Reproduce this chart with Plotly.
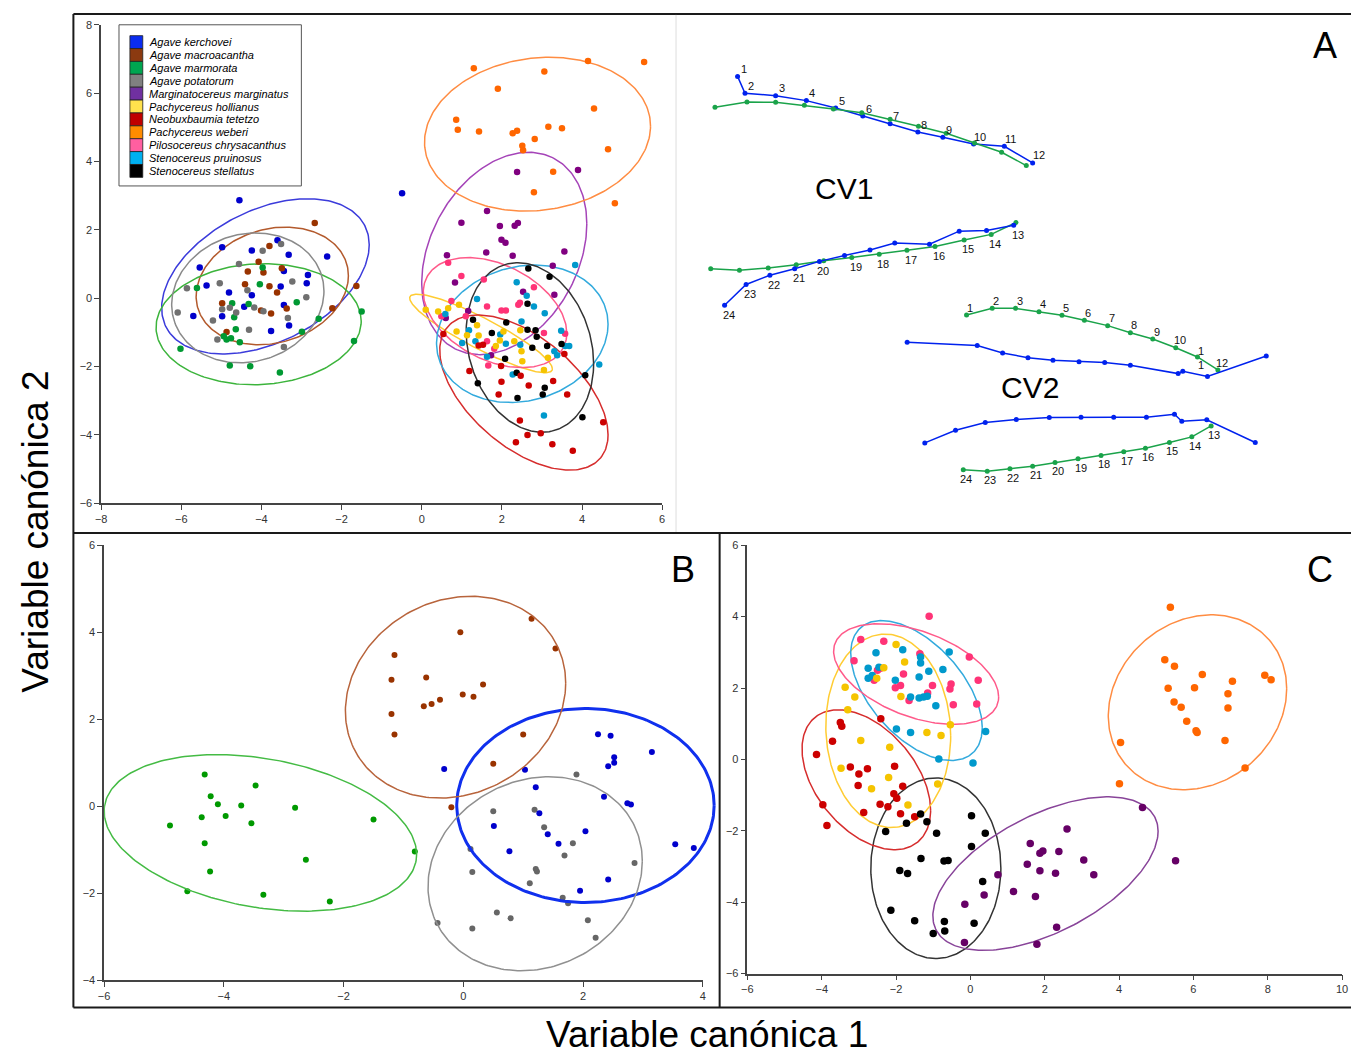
import numpy as np
import plotly.graph_objects as go

W, H = 1357, 1061
FONT = "Liberation Sans, Arial, sans-serif"

# ---------------- species and colours ----------------
species = ["Agave kerchovei", "Agave macroacantha", "Agave marmorata", "Agave potatorum",
           "Marginatocereus marginatus", "Pachycereus hollianus", "Neobuxbaumia tetetzo",
           "Pachycereus weberi", "Pilosocereus chrysacanthus", "Stenocereus pruinosus",
           "Stenocereus stellatus"]
legend_colors = ["#0a2cf0", "#8b3a10", "#00a550", "#808080", "#7030a0", "#ffe14d",
                 "#c00000", "#ff8c00", "#ff5fa0", "#00b0f0", "#000000"]
point_colors = {"kerchovei": "#0000cc", "macroacantha": "#993300", "marmorata": "#009933",
                "potatorum": "#707070", "marginatus": "#800080", "hollianus": "#f5c400",
                "tetetzo": "#cc0000", "weberi": "#ff6600", "chrysacanthus": "#ff3377",
                "pruinosus": "#0099cc", "stellatus": "#000000"}
ellipse_colors = {"kerchovei": "#3b3bdb", "macroacantha": "#b35a2d", "marmorata": "#3cb43c",
                  "potatorum": "#8a8a8a", "marginatus": "#a544b8", "hollianus": "#ffcc33",
                  "tetetzo": "#d62d2d", "weberi": "#ff8c42", "chrysacanthus": "#ff5a8a",
                  "pruinosus": "#33aadd", "stellatus": "#333333"}

# ---------------- panel A: all species (CV1, CV2) ----------------
a_kerchovei = [(-4.55, 2.87), (-4.98, 1.49), (-4.24, 1.40), (-3.60, 1.70), (-3.32, 1.27), (-2.36, 1.22),
               (-5.54, 0.90), (-2.84, 0.68), (-3.44, 0.80), (-5.37, 0.37), (-2.87, 0.44), (-4.81, 0.17),
               (-3.52, 0.34), (-4.24, 0.09), (-4.43, -0.25), (-3.44, -0.20), (-5.70, -0.52), (-4.98, -0.53),
               (-3.31, -0.80), (-3.76, -0.96), (-0.49, 3.07)]
a_macroacantha = [(-2.67, 2.20), (-3.80, 1.53), (-4.07, 1.07), (-3.49, 0.88), (-4.34, 0.78), (-3.95, 0.75),
                  (-4.41, 0.41), (-3.80, 0.35), (-3.61, 0.17), (-1.63, 0.36), (-4.98, -0.15), (-4.01, -0.36),
                  (-3.76, -0.45), (-3.37, -0.30), (-2.23, -0.29), (-4.87, -0.99)]
a_marmorata = [(-3.97, 0.90), (-4.04, 0.41), (-5.61, 0.30), (-4.73, -0.15), (-4.32, -0.17), (-3.12, -0.12),
               (-4.68, -0.56), (-2.57, -0.60), (-1.50, -0.39), (-4.64, -0.91), (-2.99, -0.98), (-4.94, -1.11),
               (-4.76, -1.17), (-4.87, -1.21), (-4.54, -1.29), (-1.69, -1.25), (-6.02, -1.48), (-4.79, -1.97),
               (-4.28, -1.99), (-3.54, -2.17)]
a_potatorum = [(-3.51, 1.59), (-3.97, 1.39), (-4.56, 1.00), (-5.86, 0.29), (-5.04, 0.44), (-3.23, 0.49),
               (-2.88, 0.03), (-4.35, 0.23), (-4.79, -0.28), (-4.63, -0.42), (-4.98, -0.32), (-4.18, -0.27),
               (-3.95, -0.38), (-6.09, -0.42), (-5.21, -0.65), (-3.34, -0.58), (-4.31, -0.92), (-5.10, -1.21),
               (-3.44, -1.43)]
a_marginatus = [(2.38, 3.69), (3.90, 3.75), (1.63, 2.55), (0.99, 2.21), (1.95, 2.11), (2.32, 2.12), (2.40, 2.20),
                (1.99, 1.71), (2.09, 1.62), (0.63, 1.26), (1.61, 1.34), (2.27, 1.24), (3.56, 1.37), (3.27, 0.95),
                (0.83, 0.46), (2.53, 0.19), (3.31, 0.10), (1.16, -0.37), (0.60, -0.58), (1.73, -1.67)]
a_hollianus = [(0.10, -0.34), (0.41, -0.39), (0.66, -0.29), (0.93, -0.19), (1.38, -0.79), (0.87, -0.97),
               (1.13, -1.08), (1.42, -1.09), (1.95, -1.24), (2.04, -0.97), (2.31, -1.26), (2.46, -0.94),
               (2.49, -1.55), (2.51, -1.84), (3.15, -1.74), (3.05, -2.10), (1.85, -1.40)]
a_tetetzo = [(0.54, -1.05), (1.42, -1.38), (1.53, -1.36), (1.98, -1.98), (1.19, -2.13), (2.47, -2.27),
             (1.99, -2.44), (2.67, -2.55), (3.28, -2.42), (1.92, -2.82), (3.63, -2.82), (3.56, -1.63),
             (2.45, -3.58), (2.64, -4.00), (2.97, -3.95), (2.35, -4.21), (3.26, -4.27), (3.77, -4.46),
             (4.53, -3.63)]
a_weberi = [(1.30, 6.73), (3.06, 6.63), (4.15, 6.94), (5.55, 6.91), (1.90, 6.13), (4.30, 5.55), (0.86, 5.22),
            (0.90, 4.93), (1.43, 4.88), (2.27, 4.83), (2.38, 4.90), (3.16, 5.02), (3.50, 4.97), (2.82, 4.66),
            (2.51, 4.46), (2.53, 4.33), (4.65, 4.36), (3.28, 3.70), (2.80, 3.10), (4.82, 2.78)]
a_chrysacanthus = [(0.66, 1.04), (0.99, 0.65), (1.55, 0.55), (2.80, 0.32), (0.74, -0.08), (1.63, -0.24),
                   (2.41, -0.19), (2.45, -0.13), (1.99, -0.36), (2.10, -0.36), (1.10, -0.53), (3.05, -1.02),
                   (3.58, -1.04), (1.63, -1.26), (1.81, -1.48), (1.66, -1.97), (0.49, -0.53)]
a_pruinosus = [(3.83, 0.97), (2.37, 0.47), (2.62, 0.07), (2.80, -0.24), (1.38, -0.02), (3.07, -0.44),
               (0.59, -0.46), (2.49, -0.68), (1.18, -0.94), (1.96, -1.06), (1.34, -1.26), (1.01, -1.31),
               (2.46, -1.36), (3.48, -0.95), (3.31, -1.55), (3.38, -1.67), (3.58, -1.40), (3.68, -1.40),
               (1.63, -1.71), (2.27, -2.23), (4.43, -1.94), (3.05, -3.43), (2.10, -1.33)]
a_stellatus = [(2.66, 0.87), (3.19, 0.63), (2.64, -0.16), (1.28, -0.63), (2.11, -0.71), (1.75, -1.02),
               (2.64, -0.92), (2.84, -0.94), (2.87, -1.13), (3.13, -1.40), (3.49, -1.34), (2.76, -1.45),
               (2.08, -1.77), (2.37, -2.18), (1.40, -2.49), (3.07, -2.62), (3.02, -2.82), (2.39, -2.92),
               (4.08, -2.25), (4.01, -3.48)]

# ellipse: centre x, centre y, half-width, half-height, tilt angle (deg)
ellipses_a = {"kerchovei": (-3.90, 0.64, 2.59, 2.27, 66), "macroacantha": (-3.73, 0.36, 1.90, 1.72, 80),
              "marmorata": (-4.07, -0.76, 2.56, 1.77, 87), "potatorum": (-4.34, 0.01, 1.90, 1.90, 84),
              "marginatus": (2.06, 1.31, 2.06, 2.96, 73), "hollianus": (1.48, -1.03, 1.78, 1.15, 154),
              "tetetzo": (2.55, -2.76, 2.10, 2.27, 123), "weberi": (2.89, 4.80, 2.82, 2.25, 84),
              "chrysacanthus": (1.83, -0.42, 1.79, 1.61, 112), "pruinosus": (2.51, -1.04, 2.14, 2.01, 82),
              "stellatus": (2.70, -1.44, 1.59, 2.48, 101)}

# ---------------- panel B: Agave ----------------
b_kerchovei = [(2.25, 1.66), (2.46, 1.62), (3.15, 1.25), (2.52, 1.13), (2.52, 1.00), (2.42, 0.92), (-0.32, 0.86),
               (1.03, 0.84), (1.21, 0.44), (2.35, 0.22), (2.74, 0.07), (2.80, 0.04), (1.27, -0.16), (0.51, -0.45),
               (1.41, -0.64), (2.04, -0.57), (1.59, -0.86), (0.77, -1.03), (3.54, -0.87), (3.85, -0.96),
               (2.42, -1.68), (1.95, -1.94)]
b_macroacantha = [(-1.15, 3.48), (-1.20, 2.91), (-0.62, 2.96), (-0.66, 2.30), (-0.53, 2.35), (-0.39, 2.45),
                  (-1.20, 2.12), (-1.15, 1.65), (-0.05, 4.00), (1.14, 4.31), (1.54, 3.63), (0.33, 2.80),
                  (-0.01, 2.57), (0.17, 2.52), (1.00, 1.65), (0.50, 0.98), (-0.20, -0.02)]
b_marmorata = [(-4.32, 0.73), (-3.47, 0.48), (-4.22, 0.23), (-4.10, 0.05), (-3.71, 0.02), (-2.81, -0.03),
               (-4.37, -0.25), (-3.97, -0.22), (-4.90, -0.44), (-3.54, -0.39), (-1.50, -0.30), (-4.32, -0.85),
               (-0.81, -1.04), (-2.63, -1.23), (-4.23, -1.50), (-4.61, -1.95), (-3.34, -2.03), (-2.23, -2.19)]
b_potatorum = [(1.89, 0.73), (0.50, -0.11), (1.19, -0.08), (1.35, -0.48), (1.83, -0.85), (1.69, -1.13),
               (2.86, -1.30), (0.12, -0.98), (0.15, -1.51), (1.21, -1.44), (1.23, -1.50), (1.11, -1.77),
               (1.66, -2.10), (1.75, -2.23), (0.56, -2.44), (0.79, -2.57), (2.08, -2.62), (-0.43, -2.68),
               (0.15, -2.81), (2.21, -3.02)]
ellipses_b = {"kerchovei": (2.04, 0.02, 2.15, 2.23, 90), "macroacantha": (-0.13, 2.51, 1.84, 2.32, 82),
              "potatorum": (1.20, -1.55, 1.79, 2.23, 82.5), "marmorata": (-3.39, -0.61, 2.61, 1.80, 106)}

# ---------------- panel C: Cactaceae ----------------
c_chrysacanthus = [(-1.11, 4.01), (-2.95, 3.36), (-2.33, 3.31), (-1.36, 2.96), (-0.03, 2.87), (-3.13, 2.76),
                   (-2.42, 2.55), (-2.50, 2.50), (-1.80, 2.39), (-2.59, 2.22), (-1.02, 2.07), (-0.52, 2.11),
                   (-0.55, 1.97), (0.21, 2.22), (-2.02, 2.01), (-1.88, 2.07), (-1.15, 1.86), (-1.65, 1.65),
                   (-0.46, 1.53), (0.17, 1.55)]
c_pruinosus = [(-2.54, 2.99), (-1.82, 3.07), (-1.34, 2.87), (-1.34, 2.70), (-0.57, 3.01), (-2.75, 2.55),
               (-2.46, 2.58), (-2.75, 2.27), (-2.64, 2.35), (-2.02, 2.22), (-1.38, 2.31), (-1.12, 2.47),
               (-0.74, 2.52), (-1.61, 1.75), (-1.38, 1.72), (-1.26, 1.75), (-1.16, 1.77), (-0.93, 1.50),
               (-1.99, 0.85), (-1.61, 0.75), (-0.85, 0.01), (0.07, -0.10), (0.41, 0.78)]
c_hollianus = [(-2.00, 3.22), (-1.77, 2.73), (-2.33, 2.57), (-2.52, 2.27), (-3.37, 2.02), (-3.11, 1.75),
               (-1.87, 1.76), (-3.30, 1.39), (-0.54, 0.97), (-1.17, 0.75), (-0.79, 0.67), (-2.95, 0.53),
               (-2.17, 0.34), (-3.48, -0.25), (-2.20, -0.51), (-2.66, -0.82), (-0.88, -0.69), (-1.68, -1.28)]
c_tetetzo = [(-2.41, 1.14), (-3.50, 1.03), (-3.46, 0.93), (-3.71, 0.51), (-4.14, 0.14), (-2.04, -0.19),
             (-3.23, -0.21), (-2.77, -0.26), (-3.00, -0.41), (-3.02, -0.73), (-1.82, -0.75), (-2.06, -0.96),
             (-1.98, -1.09), (-3.97, -1.27), (-2.43, -1.26), (-2.22, -1.33), (-2.87, -1.49), (-1.88, -1.52),
             (-1.50, -1.61), (-3.86, -1.85)]
c_stellatus = [(-1.34, -1.53), (-1.72, -1.79), (-1.17, -1.75), (0.03, -1.58), (-2.28, -2.02), (-0.91, -2.07),
               (0.40, -2.07), (0.03, -2.44), (-1.33, -2.78), (-0.71, -2.85), (-0.60, -2.83), (-1.90, -3.11),
               (-1.69, -3.20), (0.33, -3.42), (-2.14, -4.23), (-1.50, -4.52), (-0.70, -4.54), (0.10, -4.59),
               (-1.00, -4.88), (-0.69, -4.81)]
c_marginatus = [(4.63, -1.35), (2.60, -1.95), (1.61, -2.36), (1.87, -2.63), (1.95, -2.57), (2.38, -2.58),
                (3.05, -2.82), (1.53, -2.94), (1.87, -3.12), (2.29, -3.19), (3.32, -3.23), (5.52, -2.84),
                (1.16, -3.70), (1.75, -3.84), (2.32, -4.70), (1.79, -5.18), (0.74, -3.23), (0.37, -3.80),
                (-0.15, -4.06), (-0.16, -5.13)]
c_weberi = [(5.38, 4.26), (5.23, 2.79), (5.49, 2.61), (6.24, 2.38), (7.05, 2.19), (7.92, 2.36), (8.09, 2.23),
            (5.32, 1.99), (6.03, 2.01), (6.93, 1.84), (5.48, 1.61), (5.67, 1.46), (6.93, 1.44), (5.82, 1.07),
            (6.07, 0.80), (6.10, 0.75), (6.85, 0.53), (4.04, 0.47), (7.39, -0.24), (4.01, -0.68)]
ellipses_c = {"stellatus": (-0.93, -3.05, 1.75, 2.53, 90), "tetetzo": (-2.80, -0.57, 1.73, 1.96, 116),
              "hollianus": (-2.21, 0.80, 1.68, 2.71, 93), "pruinosus": (-1.45, 1.93, 1.77, 1.96, 122),
              "chrysacanthus": (-1.46, 2.39, 2.22, 1.41, 117), "marginatus": (2.02, -3.20, 3.03, 2.15, 56.5),
              "weberi": (6.11, 1.60, 2.40, 2.45, 81)}

# ---------------- shape outlines along CV1 / CV2 (landmarks 1-24) ----------------
cv1_upper_blue = [(738.1, 71.2), (745.6, 88.3), (776.5, 90.7), (807.5, 95.7), (837.1, 103.1), (864.4, 111.2),
                  (892.0, 119.0), (920.0, 127.4), (945.2, 132.8), (976.2, 139.5), (1007.2, 141.9), (1035.8, 158.7)]
cv1_upper_green = [(715.3, 102.5), (747.6, 97.1), (776.5, 97.4), (805.5, 100.5), (834.8, 104.2), (863.4, 107.9),
                   (892.0, 114.6), (920.6, 121.7), (948.6, 128.7), (977.2, 138.5), (1004.5, 147.9), (1029.4, 161.4)]
cv1_lower_blue = [(1016.7, 221.7), (989.3, 227.0), (961.7, 227.7), (931.7, 241.0), (896.7, 239.7), (871.7, 246.7),
                  (846.0, 252.3), (820.7, 258.3), (795.7, 265.7), (770.7, 272.3), (746.7, 281.7), (725.0, 302.7)]
cv1_lower_green = [(1019.0, 219.0), (994.0, 231.0), (966.7, 236.7), (937.3, 243.3), (909.0, 247.0), (881.0, 251.0),
                   (853.3, 254.3), (825.0, 257.7), (797.3, 261.7), (769.0, 265.0), (740.0, 267.3), (711.0, 265.7)]
cv2_upper_green = [(969.1, 312.6), (995.0, 305.8), (1018.6, 305.8), (1042.2, 309.2), (1065.4, 312.9), (1088.0, 317.9),
                   (1111.5, 323.3), (1134.4, 330.4), (1157.0, 336.8), (1180.2, 345.6), (1202.1, 355.0), (1222.7, 368.1)]
cv2_upper_blue = [(909.2, 340.2), (979.9, 343.5), (1005.5, 350.9), (1031.1, 355.7), (1056.3, 358.4), (1082.6, 359.7),
                  (1108.5, 360.7), (1134.4, 363.4), (1182.6, 371.8), (1187.3, 369.5), (1212.2, 374.8), (1271.5, 354.0)]
cv2_lower_blue = [(927.0, 441.9), (958.0, 429.1), (988.0, 421.3), (1019.3, 418.3), (1052.6, 416.3), (1084.6, 415.9),
                  (1117.6, 415.9), (1150.6, 415.9), (1178.9, 412.9), (1186.3, 420.0), (1211.5, 418.6), (1260.4, 441.5)]
cv2_lower_green = [(1215.9, 424.7), (1196.4, 435.8), (1173.8, 441.5), (1149.6, 447.2), (1127.7, 450.9), (1104.8, 454.6),
                   (1081.6, 458.0), (1058.4, 461.7), (1035.8, 465.4), (1012.9, 468.1), (990.0, 470.5), (965.8, 469.1)]
upper_labels = [str(i) for i in range(1, 13)]
lower_labels = [str(i) for i in range(13, 25)]


def ellipse(cx, cy, rx, ry, tilt, n=240):
    t = np.linspace(0, 2 * np.pi, n)
    return cx + rx * np.cos(t), cy + ry * np.cos(t - np.radians(tilt))


def px(x):
    return x / W


def py(y):
    return 1 - y / H


fig = go.Figure()


def add_panel(points, ells, xa, ya, msize, ewidth=1.5, ecolors=None, pcolors=None, wide=None, ell_xa=None):
    ecolors = ecolors or ellipse_colors
    pcolors = pcolors or point_colors
    for key, (cx, cy, rx, ry, tilt) in ells.items():
        ex, ey = ellipse(cx, cy, rx, ry, tilt)
        w = ewidth if wide is None or key not in wide else wide[key]
        fig.add_trace(go.Scatter(x=ex, y=ey, mode="lines", xaxis=ell_xa or xa, yaxis=ya, showlegend=False,
                                 line=dict(color=ecolors[key], width=w), hoverinfo="skip"))
    for key, pts in points.items():
        fig.add_trace(go.Scatter(x=[p[0] for p in pts], y=[p[1] for p in pts], mode="markers",
                                 xaxis=xa, yaxis=ya, showlegend=False, name=key,
                                 marker=dict(color=pcolors[key], size=msize, line=dict(width=0))))


add_panel({"kerchovei": a_kerchovei, "macroacantha": a_macroacantha, "marmorata": a_marmorata,
           "potatorum": a_potatorum, "weberi": a_weberi, "marginatus": a_marginatus,
           "chrysacanthus": a_chrysacanthus, "pruinosus": a_pruinosus, "hollianus": a_hollianus,
           "stellatus": a_stellatus, "tetetzo": a_tetetzo},
          ellipses_a, "x", "y", 6.5)

# panel B ellipses use a companion x axis with the same scale that reaches the panel border
add_panel({"macroacantha": b_macroacantha, "marmorata": b_marmorata, "potatorum": b_potatorum,
           "kerchovei": b_kerchovei},
          ellipses_b, "x2", "y2", 6,
          ecolors=dict(ellipse_colors, kerchovei="#1030ee", potatorum="#909090", macroacantha="#b8643c",
                       marmorata="#44bb44"),
          pcolors=dict(point_colors, kerchovei="#0000cc", potatorum="#666666", marmorata="#009900"),
          wide={"kerchovei": 3}, ell_xa="x5")

add_panel({"chrysacanthus": c_chrysacanthus, "pruinosus": c_pruinosus, "hollianus": c_hollianus,
           "tetetzo": c_tetetzo, "stellatus": c_stellatus, "marginatus": c_marginatus, "weberi": c_weberi},
          ellipses_c, "x3", "y3", 7.5,
          ecolors=dict(ellipse_colors, marginatus="#884499"),
          pcolors=dict(point_colors, marginatus="#660066"))

# shape outlines
annotations = []
for pts, col in [(cv1_upper_blue, "#0022ee"), (cv1_upper_green, "#1aa34a"), (cv1_lower_green, "#1aa34a"),
                 (cv1_lower_blue, "#0022ee"), (cv2_upper_green, "#1aa34a"), (cv2_upper_blue, "#0022ee"),
                 (cv2_lower_blue, "#0022ee"), (cv2_lower_green, "#1aa34a")]:
    fig.add_trace(go.Scatter(x=[p[0] for p in pts], y=[p[1] for p in pts], mode="lines+markers",
                             xaxis="x4", yaxis="y4", showlegend=False, hoverinfo="skip",
                             line=dict(color=col, width=1.5), marker=dict(color=col, size=5)))

lab_font = dict(family=FONT, size=11, color="#111111")


def note(x, y, text, font, ref="paper", **kw):
    d = dict(x=x, y=y, xref=ref, yref=ref if ref == "paper" else "y4", text=text, showarrow=False,
             font=font, xanchor="center", yanchor="middle")
    d.update(kw)
    annotations.append(d)


for lab, (x, y) in zip(upper_labels, cv1_upper_blue):
    note(x + 6, y - 7.5, lab, lab_font, ref="x4")
for lab, b, g in zip(lower_labels, cv1_lower_blue, cv1_lower_green):
    low = b if b[1] >= g[1] else g
    note(low[0] + 4, low[1] + 9.5, lab, lab_font, ref="x4")
for lab, (x, y) in zip(upper_labels, cv2_upper_green):
    if lab == "11":
        note(x + 4, y + 1.5, "1<br>1", lab_font, ref="x4")
    else:
        note(x + 4, y - 7.5, lab, lab_font, ref="x4")
for lab, (x, y) in zip(lower_labels, cv2_lower_green):
    note(x + 3, y + 9, lab, lab_font, ref="x4")

big = dict(family=FONT, size=36, color="black")
note(px(845), py(185), "CV1", dict(family=FONT, size=30, color="black"))
note(px(1033), py(386), "CV2", dict(family=FONT, size=30, color="black"))
note(px(1331), py(40), "A", big)
note(px(683), py(570), "B", big)
note(px(1326), py(570), "C", big)
note(px(30), py(532), "Variable canónica 2", dict(family=FONT, size=37, color="black"), textangle=-90)
note(px(707), py(1040), "Variable canónica 1", dict(family=FONT, size=37, color="black"))

# legend drawn as a boxed key
shapes = [dict(type="rect", xref="paper", yref="paper", x0=px(114), x1=px(298), y0=py(182), y1=py(19),
               line=dict(color="#555555", width=1), fillcolor="white", layer="below")]
step = 13.03
for i, (name, col) in enumerate(zip(species, legend_colors)):
    top = 30 + step * i
    shapes.append(dict(type="rect", xref="paper", yref="paper", x0=px(125), x1=px(138),
                       y0=py(top + step), y1=py(top), fillcolor=col, line=dict(color="#222222", width=0.8)))
    note(px(142), py(top + step / 2), "<i>" + name + "</i>", dict(family=FONT, size=11, color="black"),
         xanchor="left")

# panel frames
frame = dict(color="#1a1a1a", width=2)
for x0, y0, x1, y1 in [(68, 8, 1357, 8), (68, 8, 68, 1013), (68, 533, 1357, 533), (720, 533, 720, 1013),
                       (68, 1013, 1357, 1013)]:
    shapes.append(dict(type="line", xref="paper", yref="paper", x0=px(x0), y0=py(y0), x1=px(x1), y1=py(y1),
                       line=frame))
shapes.append(dict(type="line", xref="paper", yref="paper", x0=px(676), y0=py(9), x1=px(676), y1=py(532),
                   line=dict(color="#dddddd", width=1)))

axis_style = dict(showgrid=False, zeroline=False, showline=True, linecolor="#444444", linewidth=1.5,
                  ticks="outside", ticklen=5, tickcolor="#444444", tickwidth=1.2, dtick=2,
                  tickfont=dict(family=FONT, size=11, color="#333333"))

b_left, b_right, b_edge = 99, 703, 719
b_span = -6 + 10 * (b_edge - b_left) / (b_right - b_left)

fig.update_layout(
    width=W, height=H, margin=dict(l=0, r=0, t=0, b=0),
    paper_bgcolor="white", plot_bgcolor="rgba(0,0,0,0)", showlegend=False,
    xaxis=dict(axis_style, range=[-8, 6], domain=[px(96), px(662)], anchor="y"),
    yaxis=dict(axis_style, range=[-6, 8], domain=[py(503), py(19)], anchor="x"),
    xaxis2=dict(axis_style, range=[-6, 4], domain=[px(b_left), px(b_right)], anchor="y2"),
    yaxis2=dict(axis_style, range=[-4, 6], domain=[py(985.5), py(545.5)], anchor="x2"),
    xaxis3=dict(axis_style, range=[-6, 10], domain=[px(748), px(1348)], anchor="y3"),
    yaxis3=dict(axis_style, range=[-6, 6], domain=[py(978.6), py(545.4)], anchor="x3"),
    xaxis4=dict(visible=False, range=[676, 1357], domain=[px(676), 1], anchor="y4"),
    yaxis4=dict(visible=False, range=[533, 8], domain=[py(533), py(8)], anchor="x4"),
    xaxis5=dict(visible=False, range=[-6, b_span], domain=[px(b_left), px(b_edge)], anchor="y2"),
    shapes=shapes, annotations=annotations,
)

fig.write_html("out.html")
